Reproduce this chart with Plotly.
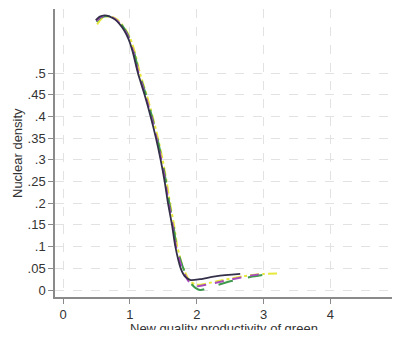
import plotly.graph_objects as go

# main descending part
main_x = [0.49, 0.55, 0.62, 0.70, 0.78, 0.85, 0.92, 0.98, 1.04, 1.12, 1.22, 1.31, 1.39, 1.46, 1.52, 1.57, 1.63, 1.68, 1.76, 1.83]
main_y = [0.622, 0.630, 0.633, 0.630, 0.623, 0.612, 0.597, 0.578, 0.550, 0.500, 0.450, 0.400, 0.350, 0.300, 0.250, 0.200, 0.150, 0.100, 0.050, 0.030]

black_x = main_x + [1.91, 2.05, 2.3, 2.65]
black_y = main_y + [0.023, 0.025, 0.032, 0.037]

purple_x = [0.50, 0.56, 0.63, 0.71, 0.79, 0.86, 0.93, 0.99, 1.05, 1.13, 1.23, 1.32, 1.40, 1.47, 1.53, 1.58, 1.64, 1.69, 1.78, 1.88, 2.0, 2.2, 2.5, 2.8, 2.97]
purple_y = [0.620, 0.629, 0.632, 0.630, 0.623, 0.612, 0.597, 0.578, 0.550, 0.500, 0.450, 0.400, 0.350, 0.300, 0.250, 0.200, 0.150, 0.100, 0.050, 0.020, 0.009, 0.014, 0.024, 0.033, 0.037]

green_x = [0.50, 0.57, 0.64, 0.72, 0.80, 0.87, 0.94, 1.00, 1.06, 1.14, 1.24, 1.33, 1.41, 1.48, 1.54, 1.59, 1.65, 1.70, 1.80, 1.93, 2.05, 2.2, 2.5, 2.8, 3.0]
green_y = [0.618, 0.628, 0.631, 0.630, 0.623, 0.612, 0.597, 0.578, 0.550, 0.500, 0.450, 0.400, 0.350, 0.300, 0.250, 0.200, 0.150, 0.100, 0.050, 0.012, 0.0, 0.006, 0.020, 0.030, 0.035]

yellow_x = [0.51, 0.58, 0.65, 0.73, 0.81, 0.88, 0.95, 1.01, 1.07, 1.15, 1.25, 1.34, 1.42, 1.49, 1.55, 1.60, 1.66, 1.71, 1.80, 1.90, 2.0, 2.3, 2.7, 3.0, 3.2]
yellow_y = [0.612, 0.626, 0.630, 0.629, 0.623, 0.612, 0.597, 0.578, 0.550, 0.500, 0.450, 0.400, 0.350, 0.300, 0.250, 0.200, 0.150, 0.100, 0.050, 0.020, 0.012, 0.020, 0.032, 0.037, 0.038]

y_ticks = [0, 0.05, 0.1, 0.15, 0.2, 0.25, 0.3, 0.35, 0.4, 0.45, 0.5]
y_labels = ["0", ".05", ".1", ".15", ".2", ".25", ".3", ".35", ".4", ".45", ".5"]
x_ticks = [0, 1, 2, 3, 4, 5]
x_labels = ["0", "1", "2", "3", "4", "5"]
x_title = "New quality productivity of green"
y_title = "Nuclear density"

fig = go.Figure()
fig.add_trace(go.Scatter(x=yellow_x, y=yellow_y, mode="lines", line=dict(color="#e6e83c", width=2, dash="dashdot", shape="spline", smoothing=0.7)))
fig.add_trace(go.Scatter(x=green_x, y=green_y, mode="lines", line=dict(color="#3f9a4e", width=2, dash="longdash", shape="spline", smoothing=0.7)))
fig.add_trace(go.Scatter(x=purple_x, y=purple_y, mode="lines", line=dict(color="#a94bbd", width=2, dash="dash", shape="spline", smoothing=0.7)))
fig.add_trace(go.Scatter(x=black_x, y=black_y, mode="lines", line=dict(color="#34304a", width=1.8, shape="spline", smoothing=0.7)))

axis_font = dict(family="Liberation Sans, Arial, sans-serif", size=13, color="#333333")
# page body has an 8px margin on every side; size the figure so the page fits the window without scrollbars
fig.update_layout(
    width=384, height=322,
    margin=dict(l=47, r=0, t=1, b=33),
    paper_bgcolor="white", plot_bgcolor="white",
    showlegend=False,
    font=axis_font,
    xaxis=dict(range=[-0.12, 4.92], tickvals=x_ticks, ticktext=x_labels,
               showgrid=True, gridcolor="#e2e2e2", griddash="dash", gridwidth=1,
               showline=True, linecolor="#8a8a8a", linewidth=1.5,
               ticks="outside", ticklen=5, tickcolor="#8a8a8a",
               ticklabeloverflow="allow",
               zeroline=False, automargin=False),
    yaxis=dict(range=[-0.0161, 0.6475], tickvals=y_ticks, ticktext=y_labels,
               showgrid=True, gridcolor="#e2e2e2", griddash="dash", gridwidth=1,
               showline=True, linecolor="#8a8a8a", linewidth=1.5,
               ticks="outside", ticklen=5, tickcolor="#8a8a8a",
               zeroline=False, automargin=False),
    annotations=[
        dict(text=x_title, xref="paper", yref="paper", x=0.5, y=0, xanchor="center", yanchor="middle",
             yshift=-31, showarrow=False, font=axis_font),
        dict(text=y_title, xref="paper", yref="paper", x=0, y=0.5, xanchor="center", yanchor="middle",
             xshift=-38, textangle=-90, showarrow=False, font=axis_font),
    ],
)

fig.write_html("out.html")
